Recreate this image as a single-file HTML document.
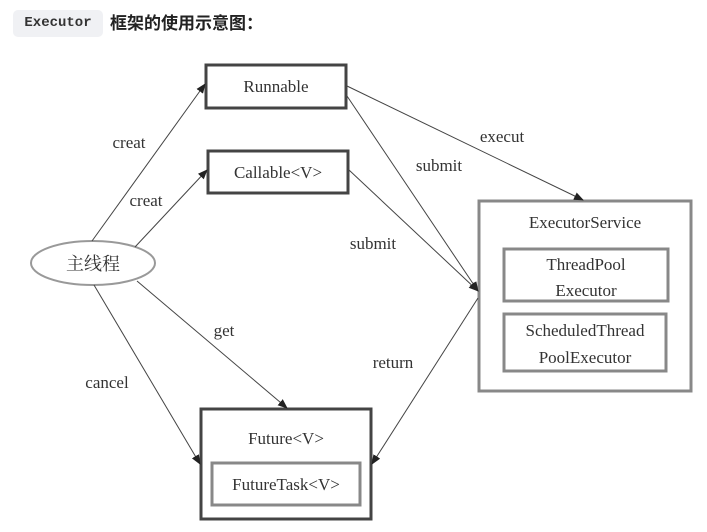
<!DOCTYPE html>
<html><head><meta charset="utf-8"><style>
body{margin:0;width:707px;height:532px;background:#fff;overflow:hidden;position:relative}
.code{position:absolute;left:13px;top:10px;width:90px;height:27px;background:#f0f1f4;border-radius:5px;font:bold 14px "Liberation Mono",monospace;color:#333;line-height:27px;text-align:center}
.h{position:absolute;left:110px;top:10px;font:bold 17px "Liberation Sans","Noto Sans CJK SC",sans-serif;color:#222;line-height:27px}
</style></head><body>
<div class="code">Executor</div>
<div class="h">框架的使用示意图：</div>
<svg width="707" height="532" style="position:absolute;left:0;top:0" font-family="Liberation Serif, Noto Serif CJK SC, serif" font-size="17" fill="#333">
<defs><marker id="a" markerWidth="10" markerHeight="8" refX="9" refY="4" orient="auto" markerUnits="userSpaceOnUse"><path d="M0,0L10,4L0,8z" fill="#222"/></marker></defs>
<g fill="none" stroke="#444" stroke-width="3">
<rect x="206" y="65" width="140" height="43"/>
<rect x="208" y="151" width="140" height="42"/>
<rect x="201" y="409" width="170" height="110"/>
</g>
<g fill="none" stroke="#888" stroke-width="3">
<rect x="479" y="201" width="212" height="190"/>
<rect x="504" y="249" width="164" height="52"/>
<rect x="504" y="314" width="162" height="57"/>
<rect x="212" y="463" width="148" height="42"/>
</g>
<ellipse cx="93" cy="263" rx="62" ry="22" fill="none" stroke="#999" stroke-width="2"/>
<g stroke="#444" stroke-width="1" fill="none" marker-end="url(#a)">
<line x1="92" y1="241" x2="205" y2="84"/>
<line x1="135" y1="247" x2="207" y2="170"/>
<line x1="347" y1="86" x2="583" y2="200"/>
<line x1="347" y1="96" x2="478" y2="291"/>
<line x1="349" y1="170" x2="478" y2="291"/>
<line x1="137" y1="281" x2="287" y2="408"/>
<line x1="94" y1="285" x2="200" y2="464"/>
<line x1="478" y1="298" x2="372" y2="464"/>
</g>
<g text-anchor="middle">
<text x="276" y="92">Runnable</text>
<text x="278" y="178">Callable&lt;V&gt;</text>
<text x="286" y="444">Future&lt;V&gt;</text>
<text x="286" y="490">FutureTask&lt;V&gt;</text>
<text x="585" y="228">ExecutorService</text>
<text x="586" y="270">ThreadPool</text>
<text x="586" y="296">Executor</text>
<text x="585" y="336">ScheduledThread</text>
<text x="585" y="363">PoolExecutor</text>
<text x="93" y="270" font-size="18">主线程</text>
<text x="129" y="148">creat</text>
<text x="146" y="206">creat</text>
<text x="502" y="142">execut</text>
<text x="439" y="171">submit</text>
<text x="373" y="249">submit</text>
<text x="224" y="336">get</text>
<text x="107" y="388">cancel</text>
<text x="393" y="368">return</text>
</g>
</svg>
</body></html>
